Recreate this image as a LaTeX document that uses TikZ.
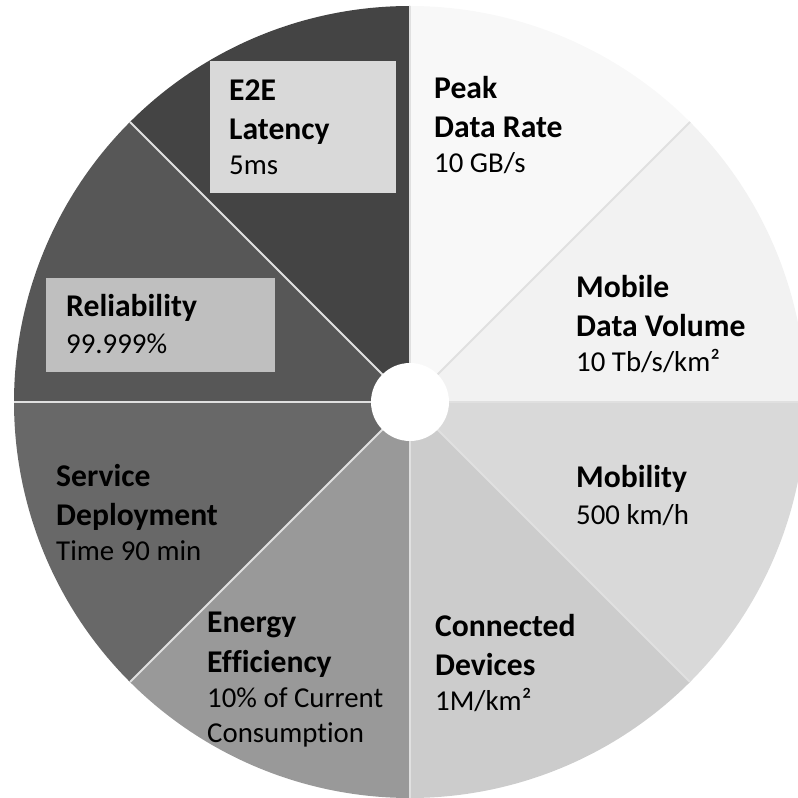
\documentclass[tikz,border=0pt]{standalone}
\usepackage{fontspec}
\setmainfont[Ligatures=NoCommon]{Carlito}
\usepackage{tikz}
\usetikzlibrary{positioning}
\usepackage{xcolor}

\definecolor{peakfill}{HTML}{F8F8F8}
\definecolor{volumefill}{HTML}{F2F2F2}
\definecolor{mobilityfill}{HTML}{D9D9D9}
\definecolor{devicesfill}{HTML}{CCCCCC}
\definecolor{energyfill}{HTML}{999999}
\definecolor{servicefill}{HTML}{686868}
\definecolor{reliabfill}{HTML}{575757}
\definecolor{latencyfill}{HTML}{444444}
\definecolor{latencybox}{HTML}{D9D9D9}
\definecolor{reliabbox}{HTML}{BFBFBF}

% values are set a little smaller than the bold headings
\newcommand{\kpival}[1]{{\fontsize{24.6}{30}\selectfont #1}}

\begin{document}
\begin{tikzpicture}[x=0.03cm, y=0.03cm,
        divider/.style={draw=white!88!black, line width=1.6pt},
        metric/.style={align=left, anchor=base west, inner sep=0pt,
            font=\fontsize{27}{30}\selectfont}]
            \useasboundingbox (0,0) rectangle (798,798);
            \clip (0,0) rectangle (798,798);
            \coordinate (hub) at (410,396);

            \fill[volumefill] (hub) -- ++(0:396) arc[start angle=0, end angle=45, radius=396] -- cycle;
            \fill[peakfill] (hub) -- ++(45:396) arc[start angle=45, end angle=90, radius=396] -- cycle;
            \fill[latencyfill] (hub) -- ++(90:396) arc[start angle=90, end angle=135, radius=396] -- cycle;
            \fill[reliabfill] (hub) -- ++(135:396) arc[start angle=135, end angle=180, radius=396] -- cycle;
            \fill[servicefill] (hub) -- ++(180:396) arc[start angle=180, end angle=225, radius=396] -- cycle;
            \fill[energyfill] (hub) -- ++(225:396) arc[start angle=225, end angle=270, radius=396] -- cycle;
            \fill[devicesfill] (hub) -- ++(270:396) arc[start angle=270, end angle=315, radius=396] -- cycle;
            \fill[mobilityfill] (hub) -- ++(315:396) arc[start angle=315, end angle=360, radius=396] -- cycle;

            \draw[divider] (hub) -- ++(0:396);
            \draw[divider] (hub) -- ++(45:396);
            \draw[divider] (hub) -- ++(90:396);
            \draw[divider] (hub) -- ++(135:396);
            \draw[divider] (hub) -- ++(180:396);
            \draw[divider] (hub) -- ++(225:396);
            \draw[divider] (hub) -- ++(270:396);
            \draw[divider] (hub) -- ++(315:396);

            \fill[white] (hub) circle (39);

            \fill[latencybox] (210,605) rectangle (396,737);
            \fill[reliabbox] (46,426) rectangle (275,520);

            % anchored at the baseline of the last line
            \node[metric] (peak) at (434,625) {\textbf{Peak}\\[4pt]\textbf{Data Rate}\\\kpival{10 GB/s}};
            \node[metric] (volume) at (576,426) {\textbf{Mobile}\\[4pt]\textbf{Data Volume}\\\kpival{10 Tb/s/km²}};
            \node[metric] (mobility) at (576,273) {\textbf{Mobility}\\[2.4pt]\kpival{500 km/h}};
            \node[metric] (devices) at (435,87) {\textbf{Connected}\\[4pt]\textbf{Devices}\\\kpival{1M/km²}};
            \node[metric] (energy) at (207,55) {\textbf{Energy}\\[4pt]\textbf{Efficiency}\\\kpival{10\% of Current}\\\kpival{Consumption}};
            \node[metric] (service) at (56,237) {\textbf{Service}\\[4pt]\textbf{Deployment}\\\kpival{Time 90 min}};
            \node[metric] (reliab) at (66,444) {\textbf{Reliability}\\[1.6pt]\kpival{99.999\%}};
            \node[metric] (latency) at (229,623) {\textbf{E2E}\\[4pt]\textbf{Latency}\\\kpival{5ms}};
        \end{tikzpicture}
\end{document}
